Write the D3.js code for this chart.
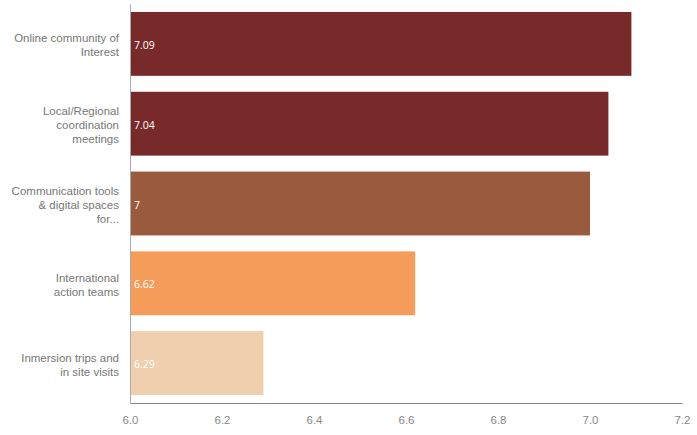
<!DOCTYPE html>
<html><head><meta charset="utf-8">
<script src="https://cdn.jsdelivr.net/npm/d3@7"></script>
<style>body{margin:0;background:#fff}</style>
</head><body>
<svg id="c" width="697" height="435"></svg>
<script>
const categories = [
  ["Online community of", "Interest"],
  ["Local/Regional", "coordination", "meetings"],
  ["Communication tools", "& digital spaces", "for..."],
  ["International", "action teams"],
  ["Inmersion trips and", "in site visits"]
];
const values = [7.09, 7.04, 7.00, 6.62, 6.29];
const valueLabels = ["7.09", "7.04", "7", "6.62", "6.29"];
const colors = ["#782a2a", "#782a2a", "#9a5a3d", "#f69c5a", "#f0cfae"];
const tickValues = [6.0, 6.2, 6.4, 6.6, 6.8, 7.0, 7.2];

(function () {
const svg = d3.select("#c");
const mLeft = 130, mRight = 682, mTop = 4, mBottom = 403;
const x = d3.scaleLinear().domain([6.0, 7.2]).range([mLeft, mRight]);
const y = d3.scaleBand().domain(d3.range(values.length)).range([mTop, mBottom]).paddingInner(0.2).paddingOuter(0.1);

svg.selectAll("rect.bar").data(values).join("rect")
  .attr("class", "bar")
  .attr("x", x(6.0))
  .attr("y", (d, i) => y(i))
  .attr("width", d => x(d) - x(6.0))
  .attr("height", y.bandwidth())
  .attr("fill", (d, i) => colors[i]);

svg.selectAll("text.val").data(values).join("text")
  .attr("class", "val")
  .attr("x", x(6.0) + 4)
  .attr("y", (d, i) => y(i) + y.bandwidth() / 2 + 1.5)
  .attr("dy", "0.35em")
  .attr("fill", "#fff")
  .attr("font-family", "Open Sans, sans-serif")
  .attr("font-size", 10.5)
  .attr("font-weight", 500)
  .text((d, i) => valueLabels[i]);

const lh = 14;
categories.forEach((lines, i) => {
  const cy = y(i) + y.bandwidth() / 2 + 1.5;
  const t = svg.append("text")
    .attr("text-anchor", "end")
    .attr("fill", "#777")
    .attr("font-family", "Liberation Sans, Arial, sans-serif")
    .attr("font-size", 11.5);
  lines.forEach((l, j) => {
    t.append("tspan").attr("x", 119)
      .attr("y", cy + (j - (lines.length - 1) / 2) * lh)
      .attr("dy", "0.35em").text(l);
  });
});

const xAxis = d3.axisBottom(x).tickValues(tickValues).tickSize(0).tickPadding(13).tickFormat(d3.format(".1f"));
const gx = svg.append("g").attr("transform", `translate(0,${mBottom})`).call(xAxis);
gx.select(".domain").attr("stroke", "#888");
gx.selectAll("text").attr("fill", "#888").attr("font-family", "Liberation Sans, Arial, sans-serif").attr("font-size", 11.5);

const yAxis = d3.axisLeft(d3.scaleLinear().range([mTop, mBottom])).ticks(0).tickSize(0);
const gy = svg.append("g").attr("transform", `translate(${mLeft},0)`).call(yAxis);
gy.select(".domain").attr("stroke", "#aaa");
})();
</script>
</body></html>
